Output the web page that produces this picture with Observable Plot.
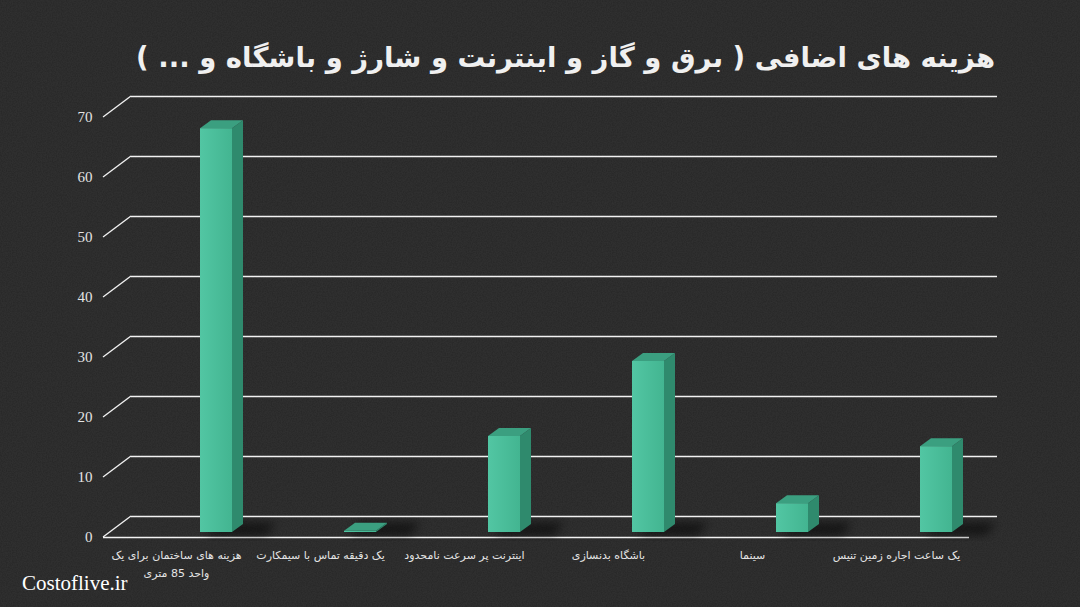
<!DOCTYPE html>
<html><head><meta charset="utf-8">
<script src="https://cdn.jsdelivr.net/npm/d3@7"></script>
<script src="https://cdn.jsdelivr.net/npm/@observablehq/plot@0.6"></script>
<style>
html,body{margin:0;padding:0;width:1080px;height:607px;overflow:hidden;background:#262626;}
#wrap{position:relative;width:1080px;height:607px;
background-image:url("data:image/svg+xml;utf8,<svg xmlns='http://www.w3.org/2000/svg' width='300' height='300'><filter id='n'><feTurbulence type='fractalNoise' baseFrequency='0.8' numOctaves='2' stitchTiles='stitch'/><feColorMatrix values='0 0 0 0 1  0 0 0 0 1  0 0 0 0 1  0 0 0 0.06 0'/></filter><rect width='100%' height='100%' filter='url(%23n)'/></svg>");}
#title{position:absolute;top:0;left:0;width:1080px;height:114px;box-sizing:border-box;padding-right:85px;direction:rtl;text-align:right;font-family:"DejaVu Sans",sans-serif;font-weight:bold;font-size:27.5px;line-height:114px;color:#f0f0f0;white-space:nowrap;}
#chart{position:absolute;top:90px;left:0;}
#caption{position:absolute;left:22px;top:571px;font-family:"Liberation Serif",serif;font-size:21px;color:#ffffff;}
</style></head>
<body>
<div id="wrap">
<div id="title">هزینه های اضافی ( برق و گاز و اینترنت و شارژ و باشگاه و ... )</div>
<div id="chart"></div>
<div id="caption">Costoflive.ir</div>
</div>
<script>
const categories = [
  "هزینه های ساختمان برای یک\nواحد 85 متری",
  "یک دقیقه تماس با سیمکارت",
  "اینترنت پر سرعت نامحدود",
  "باشگاه بدنسازی",
  "سینما",
  "یک ساعت اجاره زمین تنیس"
];
const values = [67.3, 0.2, 16, 28.5, 4.8, 14.3];
const yTicks = [0, 10, 20, 30, 40, 50, 60, 70];

const data = categories.map((c, i) => ({category: c, value: values[i]}));

const DEPTH_X = 28, DEPTH_Y = -21;     // wall depth
const BAR_DY = -5;                      // bar placement inside depth
const SIDE_X = 11, SIDE_Y = -8;         // bar depth
const INSET_L = 96, INSET_R = 16;
const GRID = "#f2f2f2";

function defsMark() {
  const s = d3.create("svg:defs");
  const g = s.append("linearGradient").attr("id", "frontGrad").attr("x1", 0).attr("x2", 1).attr("y1", 0).attr("y2", 0);
  g.append("stop").attr("offset", "0%").attr("stop-color", "#52c6a3");
  g.append("stop").attr("offset", "100%").attr("stop-color", "#43b591");
  const f = s.append("filter").attr("id", "blur").attr("x", "-50%").attr("y", "-50%").attr("width", "200%").attr("height", "200%");
  f.append("feGaussianBlur").attr("stdDeviation", 5);
  return s.node();
}

function diagonals(index, scales, values, dimensions) {
  const g = d3.create("svg:g").attr("stroke", GRID).attr("stroke-width", 1.3);
  const x0 = dimensions.marginLeft;
  for (const t of yTicks) {
    const y = scales.y(t);
    g.append("line").attr("x1", x0).attr("y1", y).attr("x2", x0 + DEPTH_X).attr("y2", y + DEPTH_Y);
  }
  return g.node();
}

function barGeom(scales, d) {
  const x1 = scales.x(d.category) + INSET_L;
  const bw = (scales.x.bandwidth ? scales.x.bandwidth() : 144) - INSET_L - INSET_R;
  const x2 = x1 + bw;
  const yb = scales.y(0) + BAR_DY;
  const yt = scales.y(d.value) + BAR_DY;
  return {x1, x2, yb, yt};
}

function shadows(index, scales) {
  const g = d3.create("svg:g").attr("filter", "url(#blur)");
  for (const d of data) {
    const {x1, x2, yb} = barGeom(scales, d);
    g.append("polygon")
      .attr("points", [[x1 + 6, yb + 3], [x2 + 34, yb + 3], [x2 + 44, yb - 9], [x1 + 16, yb - 9]].map(p => p.join(",")).join(" "))
      .attr("fill", "#000").attr("fill-opacity", 0.55);
  }
  return g.node();
}

function faces(index, scales) {
  const g = d3.create("svg:g");
  for (const d of data) {
    const {x1, x2, yb, yt} = barGeom(scales, d);
    g.append("polygon")
      .attr("points", [[x2, yt], [x2 + SIDE_X, yt + SIDE_Y], [x2 + SIDE_X, yb + SIDE_Y], [x2, yb]].map(p => p.join(",")).join(" "))
      .attr("fill", "#2f8a6d");
    g.append("polygon")
      .attr("points", [[x1, yt], [x1 + SIDE_X, yt + SIDE_Y], [x2 + SIDE_X, yt + SIDE_Y], [x2, yt]].map(p => p.join(",")).join(" "))
      .attr("fill", "#3b9f80");
  }
  return g.node();
}

const plot = Plot.plot({
  width: 1080,
  height: 517,
  marginLeft: 103,
  marginRight: 111,
  marginTop: 27,
  marginBottom: 70,
  style: {background: "transparent", color: "#e4e4e4", overflow: "visible"},
  x: {domain: categories, padding: 0, label: null},
  y: {domain: [0, 70], label: null},
  marks: [
    defsMark,
    Plot.ruleY(yTicks, {dx: DEPTH_X, dy: DEPTH_Y, stroke: GRID, strokeWidth: 1.3}),
    diagonals,
    Plot.ruleY([0], {stroke: GRID, strokeWidth: 1.3}),
    shadows,
    faces,
    Plot.barY(data, {x: "category", y: "value", insetLeft: INSET_L, insetRight: INSET_R, dy: BAR_DY, fill: "url(#frontGrad)"}),
    Plot.axisY(yTicks, {tickSize: 0, tickPadding: 11, fontSize: 15, fontFamily: "Liberation Serif", fill: "#e4e4e4"}),
    Plot.axisX({tickSize: 0, tickPadding: 8, fontSize: 11, fontFamily: "DejaVu Sans", lineHeight: 1.7, fill: "#e4e4e4"})
  ]
});
document.getElementById("chart").appendChild(plot);
</script>
</body></html>
